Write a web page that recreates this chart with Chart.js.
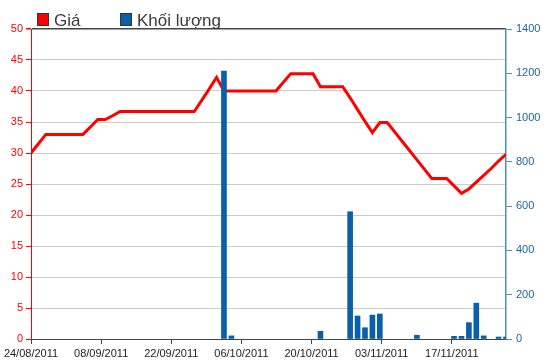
<!DOCTYPE html>
<html>
<head>
<meta charset="utf-8">
<script src="https://cdn.jsdelivr.net/npm/chart.js@4.4.1/dist/chart.umd.min.js"></script>
<style>
  html, body { margin: 0; padding: 0; background: #fff; }
</style>
</head>
<body>
<canvas id="chart" width="550" height="364"></canvas>
<script>
// x axis labels (one every ~9.45 sessions in the source chart)
var tickLabels = ['24/08/2011', '08/09/2011', '22/09/2011', '06/10/2011', '20/10/2011', '03/11/2011', '17/11/2011'];
var LABEL_STEP = 9.45;

// one value per session (65 sessions)
var priceValues = [
    30.0, 31.5, 33.0, 33.0, 33.0, 33.0, 33.0, 33.0, 34.2, 35.4,
    35.4, 36.0, 36.7, 36.7, 36.7, 36.7, 36.7, 36.7, 36.7, 36.7,
    36.7, 36.7, 36.7, 38.5, 40.3, 42.2, 40.0, 40.0, 40.0, 40.0,
    40.0, 40.0, 40.0, 40.0, 41.4, 42.8, 42.8, 42.8, 42.8, 40.7,
    40.7, 40.7, 40.7, 38.9, 37.0, 35.1, 33.3, 34.9, 34.9, 33.4,
    31.9, 30.4, 28.9, 27.4, 25.9, 25.9, 25.9, 24.7, 23.5, 24.2,
    25.3, 26.4, 27.5, 28.7, 29.8
];
var volumeValues = [
    0, 0, 0, 0, 0, 0, 0, 0, 0, 0,
    0, 0, 0, 0, 0, 0, 0, 0, 0, 0,
    0, 0, 0, 0, 0, 0, 1210, 14, 0, 0,
    0, 0, 0, 0, 0, 0, 0, 0, 0, 35,
    0, 0, 0, 575, 104, 51, 108, 113, 0, 0,
    0, 0, 17, 0, 0, 0, 0, 12, 12, 74,
    162, 14, 0, 9, 9
];

var red = '#ff0000';
var blue = '#0a60a8';
var axisBlue = '#4a8fb8';
var labelBlue = '#1b6598';
var gridGrey = '#cccccc';
var dark = '#444444';
var fontFamily = '"Liberation Sans", Arial, sans-serif';

var legendItems = [
    { text: 'Giá', color: red, x: 37 },
    { text: 'Khối lượng', color: blue, x: 120 }
];

var legendPlugin = {
    id: 'topLegend',
    afterDraw: function (chart) {
        var ctx = chart.ctx;
        ctx.save();
        ctx.font = '17px ' + fontFamily;
        ctx.textBaseline = 'alphabetic';
        legendItems.forEach(function (it) {
            ctx.fillStyle = it.color;
            ctx.fillRect(it.x, 13, 12, 13);
            ctx.strokeStyle = '#333';
            ctx.lineWidth = 1;
            ctx.strokeRect(it.x + 0.5, 13.5, 11, 12);
            ctx.fillStyle = '#3a3a3a';
            ctx.fillText(it.text, it.x + 17, 26);
        });
        ctx.restore();
    }
};

var pricePoints = priceValues.map(function (v, i) { return { x: i, y: v }; });
// sessions without trades get no bar
var volumePoints = [];
volumeValues.forEach(function (v, i) { if (v > 0) volumePoints.push({ x: i, y: v }); });

new Chart(document.getElementById('chart').getContext('2d'), {
    type: 'line',
    data: {
        datasets: [{
            type: 'bar',
            label: 'Khối lượng',
            data: volumePoints,
            yAxisID: 'yVol',
            backgroundColor: blue,
            borderWidth: 0,
            barThickness: 5,
            order: 0
        }, {
            type: 'line',
            label: 'Giá',
            data: pricePoints,
            yAxisID: 'yPrice',
            borderColor: red,
            borderWidth: 3,
            pointRadius: 0,
            tension: 0,
            fill: false,
            order: 1
        }]
    },
    options: {
        responsive: false,
        animation: false,
        layout: { padding: { top: 29 } },
        plugins: { legend: { display: false }, tooltip: { enabled: false } },
        scales: {
            x: {
                type: 'linear',
                min: 0,
                max: 64,
                offset: false,
                afterBuildTicks: function (scale) {
                    scale.ticks = tickLabels.map(function (_, j) { return { value: j * LABEL_STEP }; });
                },
                afterFit: function (scale) { scale.height = 25; },
                ticks: {
                    autoSkip: false,
                    maxRotation: 0,
                    padding: 3,
                    color: '#222',
                    font: { family: fontFamily, size: 11 },
                    callback: function (v, i) { return tickLabels[i]; }
                },
                grid: { drawOnChartArea: false, offset: false, tickLength: 5, tickColor: dark },
                border: { color: dark, width: 1 }
            },
            yPrice: {
                position: 'left',
                min: 0,
                max: 50,
                afterFit: function (scale) { scale.width = 31; },
                ticks: {
                    stepSize: 5,
                    padding: 3,
                    color: red,
                    font: { family: fontFamily, size: 11 }
                },
                grid: {
                    color: function (c) { return c.tick && c.tick.value === 50 ? dark : gridGrey; },
                    lineWidth: function (c) { return c.tick && c.tick.value === 50 ? 1.5 : 1; },
                    tickLength: 5,
                    tickColor: red
                },
                border: { color: red, width: 1 }
            },
            yVol: {
                position: 'right',
                min: 0,
                max: 1400,
                afterFit: function (scale) { scale.width = 44; },
                ticks: {
                    stepSize: 200,
                    padding: 4,
                    color: labelBlue,
                    font: { family: fontFamily, size: 11 },
                    callback: function (v) { return String(v); }
                },
                grid: { drawOnChartArea: false, tickLength: 6, tickColor: axisBlue },
                border: { color: axisBlue, width: 1.5 }
            }
        }
    },
    plugins: [legendPlugin]
});
</script>
</body>
</html>
